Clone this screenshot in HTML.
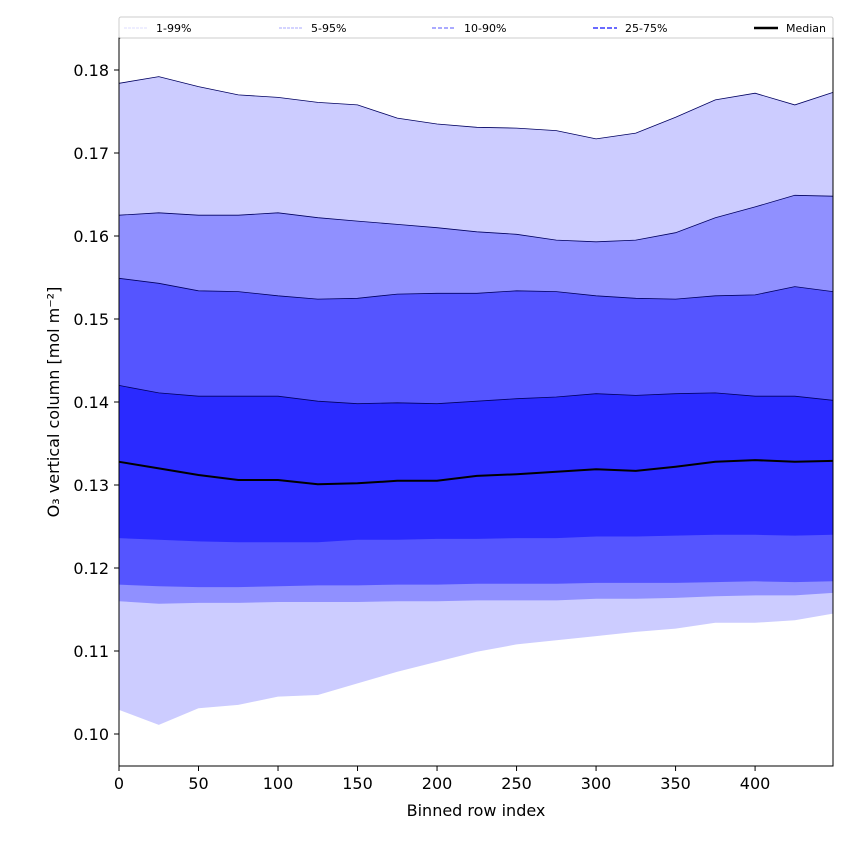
<!DOCTYPE html>
<html><head><meta charset="utf-8"><style>
body{margin:0;background:#fff;font-family:"DejaVu Sans",sans-serif}
</style></head><body>
<svg id="chart" width="850" height="850" xmlns="http://www.w3.org/2000/svg" font-family="DejaVu Sans, Liberation Sans, sans-serif">
</svg>
<script>
const xs=[0,25,50,75,100,125,150,175,200,225,250,275,300,325,350,375,400,425,449];
const p1=[0.1029,0.1011,0.1031,0.1035,0.1045,0.1047,0.1061,0.1075,0.1087,0.1099,0.1108,0.1113,0.1118,0.1123,0.1127,0.1134,0.1134,0.1137,0.1145];
const p5=[0.1160,0.1157,0.1158,0.1158,0.1159,0.1159,0.1159,0.1160,0.1160,0.1161,0.1161,0.1161,0.1163,0.1163,0.1164,0.1166,0.1167,0.1167,0.1170];
const p10=[0.1180,0.1178,0.1177,0.1177,0.1178,0.1179,0.1179,0.1180,0.1180,0.1181,0.1181,0.1181,0.1182,0.1182,0.1182,0.1183,0.1184,0.1183,0.1184];
const p25=[0.1236,0.1234,0.1232,0.1231,0.1231,0.1231,0.1234,0.1234,0.1235,0.1235,0.1236,0.1236,0.1238,0.1238,0.1239,0.1240,0.1240,0.1239,0.1240];
const p50=[0.1328,0.1320,0.1312,0.1306,0.1306,0.1301,0.1302,0.1305,0.1305,0.1311,0.1313,0.1316,0.1319,0.1317,0.1322,0.1328,0.1330,0.1328,0.1329];
const p75=[0.1420,0.1411,0.1407,0.1407,0.1407,0.1401,0.1398,0.1399,0.1398,0.1401,0.1404,0.1406,0.1410,0.1408,0.1410,0.1411,0.1407,0.1407,0.1402];
const p90=[0.1549,0.1543,0.1534,0.1533,0.1528,0.1524,0.1525,0.1530,0.1531,0.1531,0.1534,0.1533,0.1528,0.1525,0.1524,0.1528,0.1529,0.1539,0.1533];
const p95=[0.1625,0.1628,0.1625,0.1625,0.1628,0.1622,0.1618,0.1614,0.1610,0.1605,0.1602,0.1595,0.1593,0.1595,0.1604,0.1622,0.1635,0.1649,0.1648];
const p99=[0.1784,0.1792,0.1780,0.1770,0.1767,0.1761,0.1758,0.1742,0.1735,0.1731,0.1730,0.1727,0.1717,0.1724,0.1743,0.1764,0.1772,0.1758,0.1773];
const xTicks=[0,50,100,150,200,250,300,350,400];
const yTicks=[0.10,0.11,0.12,0.13,0.14,0.15,0.16,0.17,0.18];
const legendLabels=["1-99%","5-95%","10-90%","25-75%","Median"];

const L=119,R=833,T=38,B=766;
const X=v=>L+(v-0)/449*(R-L);
const Y=v=>70+(0.18-v)*8300;
const svg=document.getElementById('chart');
const NS='http://www.w3.org/2000/svg';
function mk(tag,attrs,parent){const e=document.createElementNS(NS,tag);for(const k in attrs)e.setAttribute(k,attrs[k]);(parent||svg).appendChild(e);return e;}
function line(arr){return xs.map((x,i)=>X(x).toFixed(1)+','+Y(arr[i]).toFixed(1));}
function band(lo,hi,fill,name){
  const pts=line(hi).concat(line(lo).reverse());
  const p=mk('polygon',{points:pts.join(' '),fill:fill});
  
  
}
band(p1,p99,'#ccccff','band-1-99');
band(p5,p95,'#9090ff','band-5-95');
band(p10,p90,'#5555ff','band-10-90');
band(p25,p75,'#2a2aff','band-25-75');
[[p95,'edge-p95'],[p90,'edge-p90'],[p75,'edge-p75'],[p99,'edge-p99']].forEach(([a,n])=>{
  const e=mk('polyline',{points:line(a).join(' '),fill:'none',stroke:'#000060','stroke-width':0.8});
  
  
});
const med=mk('polyline',{points:line(p50).join(' '),fill:'none',stroke:'#000','stroke-width':2});



const frame=mk('rect',{x:L,y:T,width:R-L,height:B-T,fill:'none',stroke:'#000','stroke-width':1});



xTicks.forEach(t=>{
  mk('line',{x1:X(t),x2:X(t),y1:B,y2:B+5,stroke:'#000'});
  const tx=mk('text',{x:X(t),y:B+23,'text-anchor':'middle','font-size':16});
  tx.textContent=t;
  
  
});
yTicks.forEach(t=>{
  mk('line',{x1:L-5,x2:L,y1:Y(t),y2:Y(t),stroke:'#000'});
  const tx=mk('text',{x:L-10,y:Y(t)+6,'text-anchor':'end','font-size':16});
  tx.textContent=t.toFixed(2);
  
  
});
const xt=mk('text',{x:(L+R)/2,y:816,'text-anchor':'middle','font-size':16});
xt.textContent='Binned row index';


const yt=mk('text',{x:0,y:0,'text-anchor':'middle','font-size':16,transform:'translate(59,402) rotate(-90)'});
yt.textContent='O₃ vertical column [mol m⁻²]';



const lg=mk('g',{});


mk('rect',{x:119,y:17,width:714,height:21,fill:'#fff',stroke:'#ccc','stroke-width':1,rx:2},lg);
const lx=[124,279,432,593,754];
const styles=[['#ddddff',1,'3,1'],['#aaaaff',1,'3,1'],['#7777ff',1.3,'4,2'],['#5555ff',1.8,'5,2'],['#000',2.5,'']];
legendLabels.forEach((lab,i)=>{
  const g=mk('g',{},lg);
  
  
  const s=styles[i];
  mk('line',{x1:lx[i],x2:lx[i]+24,y1:28,y2:28,stroke:s[0],'stroke-width':s[1],'stroke-dasharray':s[2]},g);
  const t=mk('text',{x:lx[i]+32,y:32,'font-size':11},g);
  t.textContent=lab;
});
</script>
</body></html>
